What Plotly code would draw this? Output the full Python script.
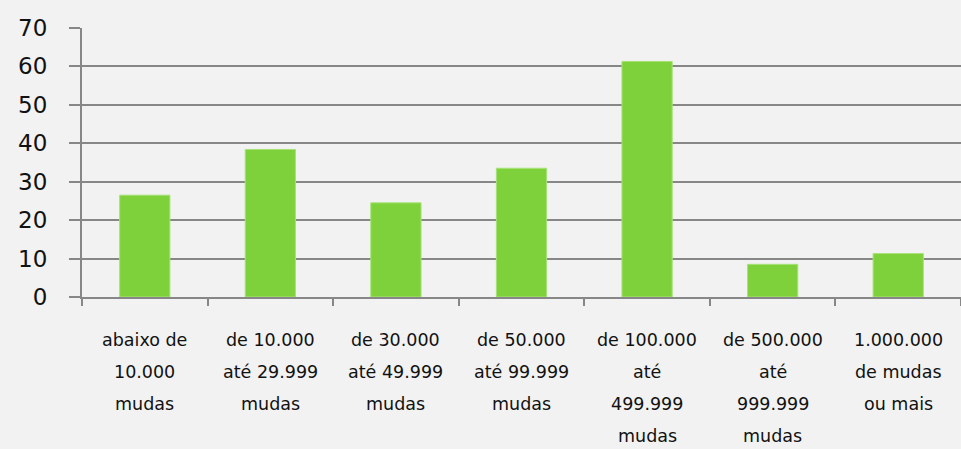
import plotly.graph_objects as go

category_lines = [
    ["abaixo de", "10.000", "mudas"],
    ["de 10.000", "até 29.999", "mudas"],
    ["de 30.000", "até 49.999", "mudas"],
    ["de 50.000", "até 99.999", "mudas"],
    ["de 100.000", "até", "499.999", "mudas"],
    ["de 500.000", "até", "999.999", "mudas"],
    ["1.000.000", "de mudas", "ou mais"],
]
categories = [" ".join(l) for l in category_lines]
values = [26.5, 38.4, 24.5, 33.5, 61.3, 8.5, 11.3]
y_ticks = [0, 10, 20, 30, 40, 50, 60, 70]

FONT = "DejaVu Sans"
GRID = "#878787"

fig = go.Figure()
fig.add_trace(go.Bar(
    x=categories, y=values,
    marker=dict(color="#7fd13b", line=dict(color="#a6e276", width=1)),
    width=0.4,
))

annotations = []
for cat, lines in zip(categories, category_lines):
    for i, line in enumerate(lines):
        annotations.append(dict(
            x=cat, xref="x", y=0, yref="paper",
            text=line, showarrow=False,
            xanchor="center", yanchor="middle",
            yshift=-(43 + 32 * i),
            font=dict(family=FONT, size=17.5, color="#111111"),
        ))

fig.update_layout(
    width=961, height=449,
    margin=dict(l=82, r=0, t=28, b=152),
    paper_bgcolor="#f2f2f2", plot_bgcolor="#f2f2f2",
    showlegend=False,
    annotations=annotations,
    xaxis=dict(
        showticklabels=False, showgrid=False,
        showline=True, linecolor=GRID, linewidth=2,
        ticks="outside", tickson="boundaries", ticklen=7,
        tickcolor=GRID, tickwidth=2,
    ),
    yaxis=dict(
        range=[0, 70], tickvals=y_ticks,
        showgrid=True, gridcolor=GRID, gridwidth=2,
        showline=True, linecolor=GRID, linewidth=2,
        ticks="outside", ticklen=11, tickcolor=GRID, tickwidth=2,
        ticklabelstandoff=17,
        tickfont=dict(family=FONT, size=23, color="#111111"),
        zeroline=False,
    ),
)

fig.write_html(
    "out.html",
    config={"displayModeBar": False},
    post_script="document.body.style.margin='0';document.body.style.background='#f2f2f2';",
)
